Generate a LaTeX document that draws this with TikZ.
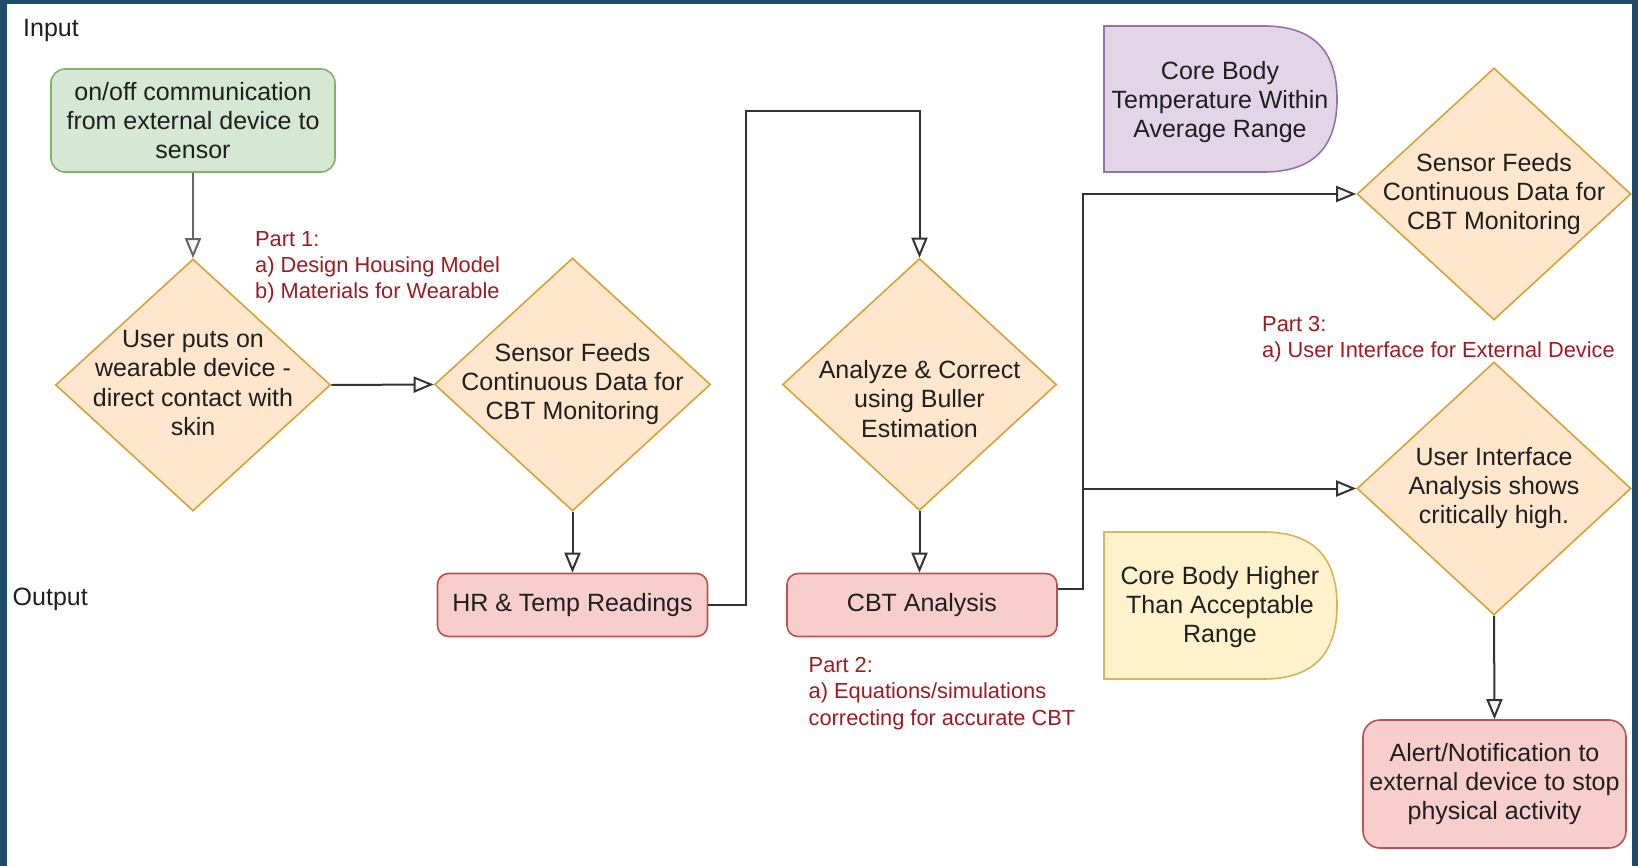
\documentclass[tikz,border=0pt]{standalone}
\usepackage{fontspec}
\setmainfont{Liberation Sans}
\usetikzlibrary{arrows.meta,shapes.geometric,calc}
\definecolor{framecol}{HTML}{1F4B6B}
\definecolor{gfill}{HTML}{D5E8D4}\definecolor{gline}{HTML}{82B366}
\definecolor{ofill}{HTML}{FFE6CC}\definecolor{oline}{HTML}{D7A23A}
\definecolor{rfill}{HTML}{F8CECC}\definecolor{rline}{HTML}{B85450}
\definecolor{pfill}{HTML}{E1D5E7}\definecolor{pline}{HTML}{9673A6}
\definecolor{yfill}{HTML}{FFF2CC}\definecolor{yline}{HTML}{D6B656}
\definecolor{partred}{HTML}{9E1B22}
\definecolor{linecol}{HTML}{333333}
\tikzset{
  txt/.style={font=\fontsize{25}{29.3}\selectfont, align=center, inner sep=0pt, text=black!88},
  boxbase/.style={txt, draw, line width=1.6pt},
  gbox/.style={boxbase, fill=gfill, draw=gline, rounded corners=14pt},
  rbox/.style={boxbase, fill=rfill, draw=rline, rounded corners=11pt},
  dia/.style={diamond, draw=oline, fill=ofill, line width=1.6pt, inner sep=0pt},
  delaypurple/.style={draw=pline, fill=pfill, line width=1.6pt},
  delayyellow/.style={draw=yline, fill=yfill, line width=1.6pt},
  part/.style={font=\fontsize{21.8}{26.3}\selectfont, text=partred, align=left, anchor=north west, inner sep=0pt},
  conn/.style={draw=linecol, line width=2pt, -{Triangle[open, length=20pt, width=16pt, line width=2pt]}},
}
\begin{document}
\begin{tikzpicture}[x=1pt,y=-1pt]
\useasboundingbox (0,0) rectangle (1638,866);
\fill[framecol] (0,0) rectangle (1638,866);
\fill[white] (7,4) rectangle (1632,866);

% labels
\node[txt, anchor=west] (inlbl) at (23,30) {Input};
\node[txt, anchor=west] (outlbl) at (12.5,599) {Output};

% start box
\node[gbox, minimum width=284pt, minimum height=103pt] (start) at (193,120.5) {on/off communication\\from external device to\\sensor};

% diamonds
\node[dia, minimum width=275pt, minimum height=252pt] (d1) at (193,385) {};
\node[txt] (d1t) at (193,383) {User puts on\\wearable device -\\direct contact with\\skin};

\node[dia, minimum width=276pt, minimum height=253pt] (d2) at (572.5,384.5) {};
\node[txt] (d2t) at (572.5,384) {Sensor Feeds\\Continuous Data for\\CBT Monitoring};

\node[dia, minimum width=274pt, minimum height=252pt] (d3) at (919.5,384.5) {};
\node[txt] (d3t) at (919.5,399) {Analyze \& Correct\\using Buller\\Estimation};

\node[dia, minimum width=274pt, minimum height=252pt] (d4) at (1494,194) {};
\node[txt] (d4t) at (1494,194) {Sensor Feeds\\Continuous Data for\\CBT Monitoring};

\node[dia, minimum width=274pt, minimum height=253pt] (d5) at (1494,488.5) {};
\node[txt] (d5t) at (1494,488) {User Interface\\Analysis shows\\critically high.};

% output boxes
\node[rbox, minimum width=270pt, minimum height=63pt] (hr) at (572.5,605) {\raisebox{-2pt}{HR \& Temp Readings}};
\node[rbox, minimum width=270pt, minimum height=63pt] (cbt) at (922,605) {\raisebox{-2pt}{CBT Analysis}};
\node[rbox, rounded corners=17pt, minimum width=263pt, minimum height=128pt] (alert) at (1494.5,784) {Alert/Notification to\\external device to stop\\physical activity};

% delay shapes
\draw[delaypurple] (1104,26) -- (1264,26) .. controls (1312.7,26) and (1337,50.3) .. (1337,99)
  .. controls (1337,147.7) and (1312.7,172) .. (1264,172) -- (1104,172) -- cycle;
\node[txt] (cbtok) at (1220,102) {Core Body\\Temperature Within\\Average Range};

\draw[delayyellow] (1104,532) -- (1263.5,532) .. controls (1312.5,532) and (1337,556.5) .. (1337,605.5)
  .. controls (1337,654.5) and (1312.5,679) .. (1263.5,679) -- (1104,679) -- cycle;
\node[txt] (cbthigh) at (1220,607) {Core Body Higher\\Than Acceptable\\Range};

% part notes
\node[part] (p1) at (255,231) {Part 1:\\a) Design Housing Model\\b) Materials for Wearable};
\node[part] (p2) at (808.5,657) {Part 2:\\a) Equations/simulations\\correcting for accurate CBT};
\node[part] (p3) at (1262,316) {Part 3:\\a) User Interface for External Device};

% connectors
\draw[conn, draw=black!60] (start.south) -- (d1.north);
\draw[conn] (d1.east) -- (d2.west);
\draw[conn] (d2.south) -- (hr.north);
\coordinate (up) at (746,111);
\draw[conn] (hr.east) -| (up) -| (d3.north);
\draw[conn] (d3.south) -- (d3.south |- cbt.north);
\coordinate (cbtout) at ($(cbt.east)+(0,-16)$);
\coordinate (jx) at (1083,0);
\draw[conn] (cbtout) -| (jx |- d4.west) -- (d4.west);
\draw[conn] (cbtout) -| (jx |- d5.west) -- (d5.west);
\draw[conn] (d5.south) -- (alert.north);
\end{tikzpicture}
\end{document}
